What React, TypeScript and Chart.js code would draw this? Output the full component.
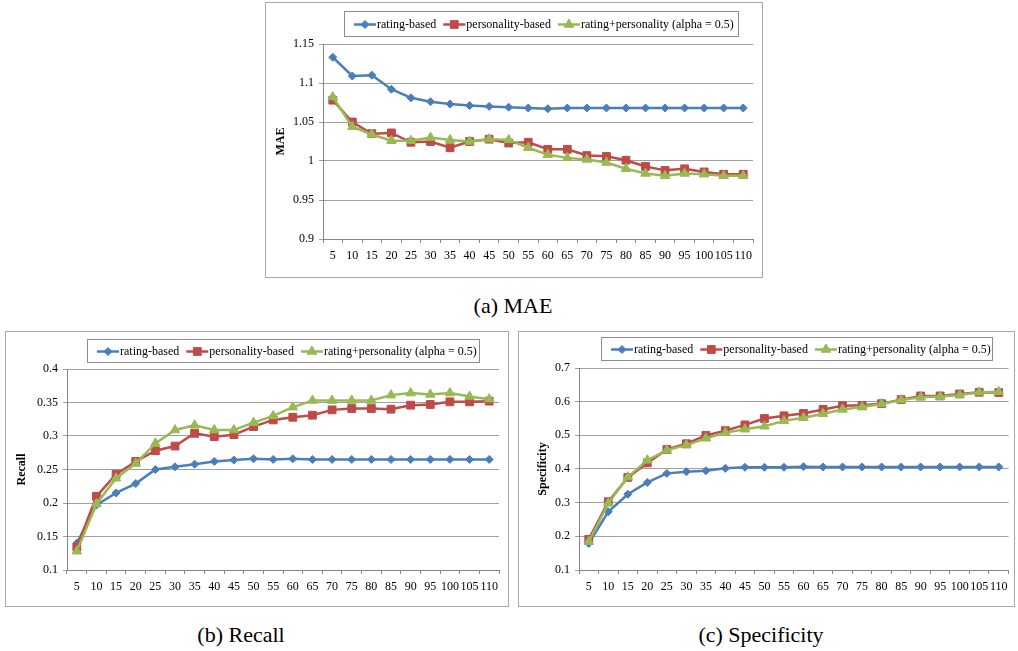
import React, { useEffect, useRef } from 'react';
import { Chart, registerables } from 'chart.js';

Chart.register(...registerables);

const CATEGORIES = ['5', '10', '15', '20', '25', '30', '35', '40', '45', '50', '55', '60', '65', '70', '75', '80', '85', '90', '95', '100', '105', '110'];

const SERIES_NAMES = ['rating-based', 'personality-based', 'rating+personality (alpha = 0.5)'];

const MAE_RATING = [1.133, 1.109, 1.110, 1.092, 1.081, 1.076, 1.073, 1.071, 1.070, 1.069, 1.068, 1.067, 1.068, 1.068, 1.068, 1.068, 1.068, 1.068, 1.068, 1.068, 1.068, 1.068];
const MAE_PERSONALITY = [1.078, 1.050, 1.035, 1.036, 1.024, 1.025, 1.017, 1.025, 1.028, 1.023, 1.024, 1.015, 1.015, 1.007, 1.006, 1.001, 0.993, 0.988, 0.990, 0.986, 0.983, 0.983];
const MAE_HYBRID = [1.082, 1.044, 1.034, 1.026, 1.026, 1.030, 1.027, 1.025, 1.028, 1.027, 1.017, 1.008, 1.004, 1.002, 0.998, 0.990, 0.984, 0.981, 0.984, 0.983, 0.981, 0.981];

const RECALL_RATING = [0.140, 0.197, 0.215, 0.229, 0.250, 0.254, 0.258, 0.262, 0.264, 0.266, 0.265, 0.266, 0.265, 0.265, 0.265, 0.265, 0.265, 0.265, 0.265, 0.265, 0.265, 0.265];
const RECALL_PERSONALITY = [0.134, 0.210, 0.243, 0.262, 0.278, 0.285, 0.304, 0.299, 0.302, 0.314, 0.324, 0.328, 0.331, 0.339, 0.341, 0.341, 0.340, 0.346, 0.347, 0.351, 0.351, 0.352];
const RECALL_HYBRID = [0.128, 0.199, 0.237, 0.259, 0.289, 0.309, 0.316, 0.309, 0.309, 0.320, 0.330, 0.343, 0.353, 0.353, 0.353, 0.353, 0.361, 0.364, 0.362, 0.364, 0.359, 0.355];

const SPEC_RATING = [0.179, 0.273, 0.325, 0.360, 0.387, 0.392, 0.395, 0.402, 0.405, 0.405, 0.405, 0.407, 0.406, 0.406, 0.406, 0.406, 0.406, 0.406, 0.406, 0.406, 0.406, 0.406];
const SPEC_PERSONALITY = [0.191, 0.303, 0.375, 0.418, 0.458, 0.475, 0.500, 0.514, 0.531, 0.550, 0.558, 0.565, 0.577, 0.588, 0.589, 0.594, 0.606, 0.617, 0.617, 0.623, 0.628, 0.627];
const SPEC_HYBRID = [0.184, 0.298, 0.376, 0.426, 0.456, 0.471, 0.491, 0.508, 0.518, 0.527, 0.543, 0.552, 0.564, 0.577, 0.584, 0.593, 0.605, 0.613, 0.615, 0.620, 0.628, 0.629];

const MAE_TICKS = { min: 0.9, max: 1.15, step: 0.05 };
const RECALL_TICKS = { min: 0.1, max: 0.4, step: 0.05 };
const SPEC_TICKS = { min: 0.1, max: 0.7, step: 0.1 };

const COLORS = ['#4A7EBB', '#BE4B48', '#98B954'];
const STYLES = ['rectRot', 'rect', 'triangle'];
const RADII = [4, 5.5, 5.5];
const FONT = '"Liberation Serif", "Times New Roman", serif';

function drawMarker(ctx: CanvasRenderingContext2D, style: string, r: number, x: number, y: number) {
  ctx.beginPath();
  if (style === 'rectRot') {
    ctx.moveTo(x - r, y); ctx.lineTo(x, y - r); ctx.lineTo(x + r, y); ctx.lineTo(x, y + r);
  } else if (style === 'rect') {
    const s = r * Math.SQRT1_2;
    ctx.rect(x - s, y - s, 2 * s, 2 * s);
  } else {
    const h = r * 1.5;
    ctx.moveTo(x, y - r);
    ctx.lineTo(x + r * 0.866, y + r * 0.5);
    ctx.lineTo(x - r * 0.866, y + r * 0.5);
  }
  ctx.closePath();
  ctx.fill();
  ctx.stroke();
}

const framePlugin = {
  id: 'frameLegend',
  beforeDraw(chart: any) {
    const { ctx, width, height } = chart;
    ctx.save();
    ctx.fillStyle = '#ffffff';
    ctx.fillRect(0, 0, width, height);
    ctx.restore();
  },
  afterDraw(chart: any, _args: any, opts: any) {
    const ctx: CanvasRenderingContext2D = chart.ctx;
    ctx.save();
    ctx.strokeStyle = '#a8a8a8';
    ctx.lineWidth = 1;
    ctx.strokeRect(0.5, 0.5, chart.width - 1, chart.height - 1);
    const L = opts.box;
    ctx.strokeStyle = '#8c8c8c';
    ctx.strokeRect(Math.round(L.x) + 0.5, Math.round(L.y) + 0.5, L.w, L.h);
    let cx = L.x + 10;
    const cy = L.y + L.h / 2 + 1;
    ctx.font = '12px ' + FONT;
    ctx.textBaseline = 'middle';
    chart.data.datasets.forEach((ds: any, i: number) => {
      ctx.strokeStyle = ds.borderColor;
      ctx.lineWidth = 2.5;
      ctx.beginPath();
      ctx.moveTo(cx, cy);
      ctx.lineTo(cx + 22, cy);
      ctx.stroke();
      ctx.fillStyle = ds.borderColor;
      ctx.lineWidth = 1;
      drawMarker(ctx, STYLES[i], RADII[i], cx + 11, cy);
      ctx.fillStyle = '#000';
      ctx.fillText(ds.label, cx + 23, cy);
      cx += 23 + ctx.measureText(ds.label).width + 7;
    });
    ctx.restore();
  },
};

type Cfg = {
  left: number; top: number; w: number; h: number;
  padTop: number; padRight: number; yWidth: number; xHeight: number;
  title: string; titlePad: number;
  ticks: { min: number; max: number; step: number };
  series: number[][];
  legend: { x: number; y: number; w: number; h: number };
};

function LineChart({ cfg }: { cfg: Cfg }) {
  const ref = useRef<HTMLCanvasElement>(null);
  useEffect(() => {
    const chart = new Chart(ref.current as HTMLCanvasElement, {
      type: 'line',
      data: {
        labels: CATEGORIES,
        datasets: cfg.series.map((d, i) => ({
          label: SERIES_NAMES[i],
          data: d,
          borderColor: COLORS[i],
          backgroundColor: COLORS[i],
          borderWidth: 2.5,
          pointStyle: STYLES[i] as any,
          pointRadius: RADII[i],
          pointBorderWidth: 1,
          pointBackgroundColor: COLORS[i],
          pointBorderColor: COLORS[i],
          tension: 0,
          order: 3 - i,
        })),
      },
      options: {
        animation: false,
        responsive: false,
        maintainAspectRatio: false,
        layout: { padding: { top: cfg.padTop, right: cfg.padRight, left: 0, bottom: 0 } },
        plugins: {
          legend: { display: false },
          tooltip: { enabled: false },
          frameLegend: { box: cfg.legend },
        } as any,
        scales: {
          x: {
            type: 'category',
            offset: true,
            grid: { display: true, drawOnChartArea: false, drawTicks: true, tickLength: 4, color: '#868686', offset: true },
            border: { display: true, color: '#868686', width: 1 },
            ticks: { color: '#000', font: { family: FONT, size: 12 }, padding: 6, maxRotation: 0, autoSkip: false },
            afterFit: (s: any) => { s.height = cfg.xHeight; },
          },
          y: {
            min: cfg.ticks.min,
            max: cfg.ticks.max,
            grid: { color: '#a0a0a0', tickLength: 4, drawTicks: true },
            border: { display: true, color: '#868686', width: 1 },
            ticks: {
              stepSize: cfg.ticks.step,
              color: '#000',
              font: { family: FONT, size: 12 },
              padding: 5,
              callback: (v: any) => String(parseFloat(Number(v).toFixed(2))),
            },
            title: { display: true, text: cfg.title, color: '#000', font: { family: FONT, size: 12, weight: 'bold' }, padding: { top: cfg.titlePad, bottom: 0 } },
            afterFit: (s: any) => { s.width = cfg.yWidth; },
          },
        },
      },
      plugins: [framePlugin],
    } as any);
    return () => chart.destroy();
  }, []);
  return (
    <canvas
      ref={ref}
      width={cfg.w}
      height={cfg.h}
      style={{ position: 'absolute', left: cfg.left, top: cfg.top, width: cfg.w, height: cfg.h }}
    />
  );
}

const CHART_A: Cfg = {
  left: 265, top: 2, w: 498, h: 276,
  padTop: 42, padRight: 10, yWidth: 58, xHeight: 39,
  title: 'MAE', titlePad: 9,
  ticks: MAE_TICKS,
  series: [MAE_RATING, MAE_PERSONALITY, MAE_HYBRID],
  legend: { x: 79, y: 9, w: 394, h: 25 },
};

const CHART_B: Cfg = {
  left: 5, top: 331, w: 504, h: 276,
  padTop: 38, padRight: 10, yWidth: 62, xHeight: 37,
  title: 'Recall', titlePad: 10,
  ticks: RECALL_TICKS,
  series: [RECALL_RATING, RECALL_PERSONALITY, RECALL_HYBRID],
  legend: { x: 82, y: 8, w: 392, h: 23 },
};

const CHART_C: Cfg = {
  left: 518, top: 331, w: 497, h: 276,
  padTop: 37, padRight: 3, yWidth: 61, xHeight: 37,
  title: 'Specificity', titlePad: 18,
  ticks: SPEC_TICKS,
  series: [SPEC_RATING, SPEC_PERSONALITY, SPEC_HYBRID],
  legend: { x: 83, y: 6, w: 391, h: 23 },
};

const CAPTIONS = [
  { text: '(a) MAE', cx: 513, cy: 306 },
  { text: '(b) Recall', cx: 241, cy: 635 },
  { text: '(c) Specificity', cx: 761, cy: 635 },
];

export default function App() {
  return (
    <div style={{ position: 'relative', width: 1018, height: 651 }}>
      <div style={{ position: 'fixed', left: 0, top: 0, width: 1018, height: 651, background: '#fff' }}>
        <LineChart cfg={CHART_A} />
        <LineChart cfg={CHART_B} />
        <LineChart cfg={CHART_C} />
        {CAPTIONS.map((c) => (
          <div
            key={c.text}
            style={{
              position: 'absolute',
              left: c.cx - 150,
              width: 300,
              top: c.cy - 12,
              height: 24,
              lineHeight: '24px',
              textAlign: 'center',
              fontFamily: FONT,
              fontSize: 22,
              color: '#000',
              whiteSpace: 'nowrap',
            }}
          >
            {c.text}
          </div>
        ))}
      </div>
    </div>
  );
}
